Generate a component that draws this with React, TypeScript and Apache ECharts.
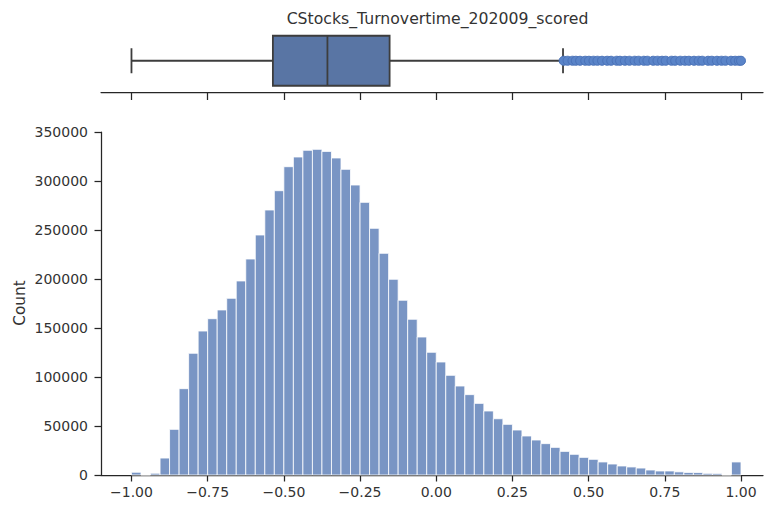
import React, { useEffect, useRef } from "react";
import * as echarts from "echarts";

const TITLE = "CStocks_Turnovertime_202009_scored";
const Y_NAME = "Count";

const BIN_START = -1.0;
const BIN_END = 1.0;
const COUNTS: number[] = [
  2800, 0, 1800, 17300, 46600, 88100, 124200, 146900, 159500, 168400,
  180300, 198000, 220400, 244900, 270400, 290100, 314600, 324500, 331300, 332300,
  330200, 323500, 311900, 295900, 278200, 251700, 226200, 199700, 178300, 158900,
  140800, 125200, 115300, 101700, 90800, 82000, 73100, 65300, 57400, 51700,
  45900, 39800, 35700, 32000, 28200, 24100, 21100, 18000, 16000, 13300,
  11200, 9200, 8200, 7100, 5100, 4100, 4100, 3200, 2600, 2500,
  1700, 1600, 0, 13300,
];

// five-number summary: whisker low, Q1, median, Q3, whisker high
const BOX_STATS: number[] = [-1.0, -0.536, -0.357, -0.153, 0.416];
const OUTLIERS: number[] = [
  0.418, 0.431, 0.447, 0.458, 0.472, 0.489, 0.501, 0.516, 0.529, 0.544,
  0.561, 0.574, 0.592, 0.603, 0.619, 0.634, 0.651, 0.664, 0.681, 0.693,
  0.712, 0.726, 0.741, 0.753, 0.772, 0.784, 0.801, 0.816, 0.829, 0.846,
  0.861, 0.873, 0.892, 0.904, 0.921, 0.936, 0.949, 0.967, 0.981, 0.993, 1.0,
];

const X_TICKS: number[] = [-1.0, -0.75, -0.5, -0.25, 0.0, 0.25, 0.5, 0.75, 1.0];
const Y_TICKS_MAX = 350000;
const Y_TICK_STEP = 50000;

const FONT = "DejaVu Sans";
const INK = "#262626";
const TEXT = "#333333";

export default function App() {
  const ref = useRef<HTMLDivElement>(null);

  useEffect(() => {
    if (!ref.current) return;
    const chart = echarts.init(ref.current, null, { renderer: "svg" });

    const binW = (BIN_END - BIN_START) / COUNTS.length;
    const histData = COUNTS.map((c, i) => [BIN_START + i * binW, BIN_START + (i + 1) * binW, c]);

    const xMin = -1.1;
    const xMax = 1.0722;
    const fmt = (v: number) => {
      const s = Math.abs(v).toFixed(2);
      return v < -1e-9 ? "\u2212" + s : s;
    };

    const axisLine = { show: true, onZero: false, lineStyle: { color: INK, width: 1.25 } };

    const option: any = {
      animation: false,
      backgroundColor: "#ffffff",
      graphic: [
        {
          type: "text",
          x: 437.5,
          y: 18,
          style: {
            text: TITLE,
            fill: TEXT,
            font: `15.7px "${FONT}"`,
            textAlign: "center",
            textVerticalAlign: "middle",
          },
        },
        {
          type: "text",
          x: 20,
          y: 303,
          rotation: Math.PI / 2,
          style: {
            text: Y_NAME,
            fill: TEXT,
            font: `15.3px "${FONT}"`,
            textAlign: "center",
            textVerticalAlign: "middle",
          },
        },
      ],
      grid: [
        { left: 101, right: 1, top: 29.5, bottom: 414 },
        { left: 101, right: 1, top: 132, bottom: 31 },
      ],
      xAxis: [
        {
          type: "value",
          gridIndex: 0,
          min: xMin,
          max: xMax,
          axisLine,
          axisTick: { show: true, length: 8, customValues: X_TICKS, lineStyle: { color: INK, width: 1.25 } },
          axisLabel: { show: false, customValues: X_TICKS },
          splitLine: { show: false },
        },
        {
          type: "value",
          gridIndex: 1,
          min: xMin,
          max: xMax,
          axisLine,
          axisTick: { show: true, length: 6.5, customValues: X_TICKS, lineStyle: { color: INK, width: 1.25 } },
          axisLabel: {
            show: true,
            customValues: X_TICKS,
            formatter: fmt,
            color: TEXT,
            fontFamily: FONT,
            fontSize: 14,
            margin: 10,
          },
          splitLine: { show: false },
        },
      ],
      yAxis: [
        {
          type: "value",
          gridIndex: 0,
          min: -0.5,
          max: 0.5,
          inverse: true,
          show: false,
        },
        {
          type: "value",
          gridIndex: 1,
          min: 0,
          max: Y_TICKS_MAX,
          interval: Y_TICK_STEP,
          axisLine,
          axisTick: { show: true, length: 6.5, lineStyle: { color: INK, width: 1.25 } },
          axisLabel: {
            color: TEXT,
            fontFamily: FONT,
            fontSize: 14,
            margin: 13,
            formatter: (v: number) => String(v),
          },
          splitLine: { show: false },
        },
      ],
      series: [
        {
          type: "custom",
          xAxisIndex: 1,
          yAxisIndex: 1,
          data: histData,
          encode: { x: [0, 1], y: 2 },
          renderItem: (_p: any, api: any) => {
            const p0 = api.coord([api.value(0), api.value(2)]);
            const p1 = api.coord([api.value(1), 0]);
            return {
              type: "rect",
              shape: { x: p0[0], y: p0[1], width: p1[0] - p0[0], height: p1[1] - p0[1] },
              style: {
                fill: "rgba(76,114,176,0.75)",
                stroke: "rgba(255,255,255,0.8)",
                lineWidth: 1,
              },
            };
          },
        },
        {
          type: "custom",
          xAxisIndex: 0,
          yAxisIndex: 0,
          data: [[...BOX_STATS, 0]],
          encode: { x: [0, 1, 2, 3, 4], y: 5 },
          renderItem: (_p: any, api: any) => {
            const lo = api.value(0);
            const q1 = api.value(1);
            const med = api.value(2);
            const q3 = api.value(3);
            const hi = api.value(4);
            const yc = api.coord([q1, 0])[1];
            const half = api.size([0, 0.8])[1] / 2;
            const cap = api.size([0, 0.4])[1] / 2;
            const xLo = api.coord([lo, 0])[0];
            const xQ1 = api.coord([q1, 0])[0];
            const xMed = api.coord([med, 0])[0];
            const xQ3 = api.coord([q3, 0])[0];
            const xHi = api.coord([hi, 0])[0];
            const ls = { stroke: "#3d3d3d", lineWidth: 1.8, fill: "none" };
            return {
              type: "group",
              children: [
                { type: "line", shape: { x1: xLo, y1: yc, x2: xQ1, y2: yc }, style: ls },
                { type: "line", shape: { x1: xQ3, y1: yc, x2: xHi, y2: yc }, style: ls },
                { type: "line", shape: { x1: xLo, y1: yc - cap, x2: xLo, y2: yc + cap }, style: ls },
                { type: "line", shape: { x1: xHi, y1: yc - cap, x2: xHi, y2: yc + cap }, style: ls },
                {
                  type: "rect",
                  shape: { x: xQ1, y: yc - half, width: xQ3 - xQ1, height: 2 * half },
                  style: { fill: "#5975a4", stroke: "#3d3d3d", lineWidth: 1.8 },
                },
                { type: "line", shape: { x1: xMed, y1: yc - half, x2: xMed, y2: yc + half }, style: ls },
              ],
            };
          },
          z: 2,
        },
        {
          type: "scatter",
          xAxisIndex: 0,
          yAxisIndex: 0,
          data: OUTLIERS.map((v) => [v, 0]),
          symbol: "circle",
          symbolSize: 9,
          itemStyle: { color: "#5a84c8", borderColor: "#4a72b8", borderWidth: 1, opacity: 1 },
          z: 3,
        },
      ],
    };

    chart.setOption(option);
    return () => chart.dispose();
  }, []);

  return (
    <div
      ref={ref}
      style={{ position: "fixed", left: 0, top: 0, width: 764, height: 506, background: "#fff" }}
    />
  );
}
